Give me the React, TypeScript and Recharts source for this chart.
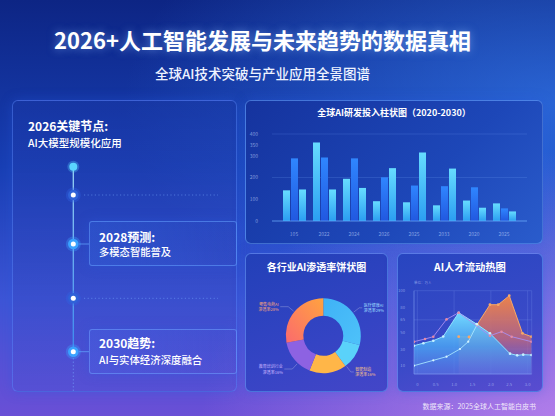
import { BarChart, Bar, XAxis, YAxis, CartesianGrid, PieChart, Pie, Cell, ComposedChart, Area, Line } from 'recharts'

const font = '"Noto Sans CJK SC", "Noto Sans", sans-serif'

// 全球AI研发投入柱状图
const barYears = ['105', '2022', '2024', '2026', '2025', '2033', '2020', '2025']
const investA = [141, 361, 194, 91, 86, 72, 94, 81]
const investB = [288, 292, 288, 201, 163, 160, 155, 58]
const investC = [145, 145, 152, 243, 315, 241, 61, 44]
const barTicks = [0, 100, 200, 300, 350, 400]

// 各行业AI渗透率
const sectors = ['医疗健康', '金融服务', '智能制造', '教育培训', '零售电商']
const sectorShare = [29, 11, 16, 16, 28]
const sectorNotes = [
  ['医疗健康AI', '渗透率29%'],
  null,
  ['智能制造', '渗透率16%'],
  ['教育培训行业', '渗透率16%'],
  ['零售电商AI', '渗透率28%'],
]

// AI人才流动热图
const flowX = [0, 1, 2, 3, 4, 5, 6]
const flowXLabels = ['0', '0.5', '1.0', '1.5', '2.0', '2.5', '3.0']
const flowYTicks = [10, 20, 30, 40, 50, 65, 80, 90, 100]
const cyanX = [-0.18, 0.33, 0.87, 1.41, 2.25, 3.22, 3.95, 5.04, 5.43, 5.76, 6.21]
const cyanY = [34, 37, 40, 45, 73.6, 60, 48.8, 24.4, 22.4, 23.2, 22.8]
const orangeX = [2.25, 2.81, 3.26, 3.95, 4.4, 5.0, 5.72, 6.21]
const orangeY = [44.8, 44.4, 59.6, 83.2, 83.2, 94, 48.8, 44.8]
const risingX = [-0.18, 0.87, 1.59, 2.32, 2.77, 3.26]
const risingY = [10, 16.4, 20.8, 30, 38.8, 59.6]
const purpleX = [-0.18, 0.42, 0.87, 1.59, 2.25, 3.95, 4.58, 5.13, 6.21]
const purpleY = [38.8, 42, 44.8, 65.6, 73.6, 46, 50.8, 44.8, 38.8]

const barData = barYears.map((label, i) => ({ label, a: investA[i], b: investB[i], c: investC[i] }))
const pieData = sectors.map((name, i) => ({ name, value: sectorShare[i] }))
const cyanData = cyanX.map((x, i) => ({ x, y: cyanY[i] }))
const orangeData = orangeX.map((x, i) => ({ x, y: orangeY[i] }))
const risingData = risingX.map((x, i) => ({ x, y: risingY[i] }))
const purpleData = purpleX.map((x, i) => ({ x, y: purpleY[i] }))

const sectorFills = ['url(#pieBlue)', '#5ad2fa', '#ffb648', '#8d62e2', 'url(#pieOrange)']
const noteColors = ['#9fdcff', '', '#f3c08a', '#c9b4ff', '#f6a47a']
const noteShift = [0, 0, 30, 7.5, 0]

const panelBorder = '1px solid rgba(110, 170, 255, 0.5)'
const tickSmall = { fontSize: 5, fill: 'rgba(200, 220, 255, 0.6)', fontFamily: font }

const RAD = Math.PI / 180

function renderNote(props: any) {
  const { cx, cy, midAngle, outerRadius, index } = props
  const note = sectorNotes[index]
  if (!note) return null
  const ang = (midAngle + noteShift[index]) * RAD
  const x0 = cx + (outerRadius + 1) * Math.cos(-ang)
  const y0 = cy + (outerRadius + 1) * Math.sin(-ang)
  const x1 = cx + (outerRadius + 8) * Math.cos(-ang)
  const y1 = cy + (outerRadius + 8) * Math.sin(-ang)
  const side = Math.cos(-ang) >= 0 ? 1 : -1
  const x2 = x1 + side * (side > 0 ? 3 : 8)
  return (
    <g>
      <polyline points={`${x0},${y0} ${x1},${y1} ${x2},${y1}`} fill="none" stroke="rgba(200,205,235,0.55)" strokeWidth={0.6} />
      <text x={x2 + side * 1.5} y={y1 - 1} textAnchor={side > 0 ? 'start' : 'end'} fontSize={4} fill={noteColors[index]} fontFamily={font}>
        <tspan x={x2 + side * 1.5} dy={0}>{note[0]}</tspan>
        <tspan x={x2 + side * 1.5} dy={5.5}>{note[1]}</tspan>
      </text>
    </g>
  )
}

function Box({ x, y, w, h, bg, children, border = panelBorder, radius = 6 }: any) {
  return (
    <div style={{ position: 'absolute', left: x, top: y, width: w, height: h, boxSizing: 'border-box', background: bg, border, borderRadius: radius, boxShadow: '0 0 12px rgba(40, 90, 220, 0.35)' }}>
      {children}
    </div>
  )
}

function Label({ x, y, size, weight = 500, children, color = '#fff', center }: any) {
  return (
    <div style={{ position: 'absolute', left: x, top: y - size * 0.7, fontSize: size, lineHeight: `${size * 1.4}px`, fontWeight: weight, color, whiteSpace: 'nowrap', width: center ? center : undefined, textAlign: center ? 'center' : 'left' }}>
      {children}
    </div>
  )
}

function Timeline() {
  const dot = (y: number, bright: boolean) => (
    <g key={y}>
      <circle cx={73.3} cy={y} r={7.5} fill={bright ? 'rgba(60,160,255,0.35)' : 'rgba(50,100,230,0.35)'} />
      <circle cx={73.3} cy={y} r={5.3} fill={bright ? '#3aa2ff' : '#2f62d8'} />
      <circle cx={73.3} cy={y} r={2.5} fill="#fff" />
    </g>
  )
  return (
    <svg width={555} height={416} style={{ position: 'absolute', left: 0, top: 0 }}>
      <defs>
        <linearGradient id="tl" gradientUnits="userSpaceOnUse" x1="0" y1="167" x2="0" y2="352">
          <stop offset="0" stopColor="#9ad6f5" />
          <stop offset="1" stopColor="#3a8cf0" />
        </linearGradient>
      </defs>
      <line x1={73.3} y1={167} x2={73.3} y2={352} stroke="url(#tl)" strokeWidth={1.3} />
      <line x1={73.3} y1={358} x2={73.3} y2={392} stroke="rgba(120,170,255,0.55)" strokeWidth={1} strokeDasharray="1.5 2" />
      <line x1={84} y1={195} x2={218} y2={195} stroke="rgba(120,170,255,0.5)" strokeWidth={1} strokeDasharray="1.2 2.4" />
      <line x1={84} y1={298.3} x2={218} y2={298.3} stroke="rgba(120,170,255,0.5)" strokeWidth={1} strokeDasharray="1.2 2.4" />
      <line x1={79} y1={244} x2={89} y2={244} stroke="rgba(100,170,255,0.7)" strokeWidth={1} />
      <line x1={79} y1={351.7} x2={89} y2={351.7} stroke="rgba(100,170,255,0.7)" strokeWidth={1} />
      <circle cx={73.3} cy={166.7} r={6} fill="rgba(90,210,255,0.3)" />
      <circle cx={73.3} cy={166.7} r={4} fill="#5ad4ff" />
      {dot(195, false)}
      {dot(244, true)}
      {dot(298.3, false)}
      {dot(351.7, true)}
    </svg>
  )
}

export default function App() {
  return (
    <div
      style={{
        position: 'absolute', left: 0, top: 0, width: 555, height: 416, overflow: 'hidden', fontFamily: font,
        background:
          'radial-gradient(ellipse at 100% 100%, rgba(200,140,240,0.75) 0%, rgba(200,140,240,0) 45%), radial-gradient(ellipse at 100% 25%, rgba(60,140,255,0.55) 0%, rgba(60,140,255,0) 55%), linear-gradient(180deg, #0d2584 0%, #183fb4 40%, #3d55d6 72%, #6a4fd6 100%)',
      }}
    >
      <div style={{ position: 'absolute', left: 0, top: 25, width: 525, textAlign: 'center', fontSize: 22, lineHeight: '28px', fontWeight: 700, color: '#fff', textShadow: '0 0 8px rgba(140,190,255,0.6)' }}>
        2026+人工智能发展与未来趋势的数据真相
      </div>
      <div style={{ position: 'absolute', left: 0, top: 63, width: 525, textAlign: 'center', fontSize: 13.5, lineHeight: '20px', fontWeight: 500, color: '#eef3ff' }}>
        全球AI技术突破与产业应用全景图谱
      </div>

      {/* 时间线 */}
      <Box x={12} y={100} w={225} h={292} bg="linear-gradient(180deg, rgba(25,55,165,0.45), rgba(70,80,210,0.35))" border="1px solid rgba(90,140,255,0.45)" />
      <Box x={89} y={221} w={148} h={45} radius={3} bg="linear-gradient(90deg, rgba(50,100,220,0.35), rgba(50,100,220,0.05))" border="1px solid rgba(100,160,255,0.55)" />
      <Box x={89} y={329} w={148} h={45} radius={3} bg="linear-gradient(90deg, rgba(70,100,230,0.35), rgba(70,100,230,0.05))" border="1px solid rgba(110,160,255,0.55)" />
      <Timeline />
      <Label x={28} y={126.7} size={12} weight={700}>2026关键节点:</Label>
      <Label x={28} y={143} size={10.5}>AI大模型规模化应用</Label>
      <Label x={99} y={237} size={12} weight={700}>2028预测:</Label>
      <Label x={99} y={252.5} size={10.3}>多模态智能普及</Label>
      <Label x={99} y={343.5} size={12} weight={700}>2030趋势:</Label>
      <Label x={99} y={360} size={10.4}>AI与实体经济深度融合</Label>

      {/* 柱状图 */}
      <Box x={245} y={100} w={298} h={144} bg="linear-gradient(135deg, #15339e 0%, #1d47b8 60%, #2a5ccc 100%)" />
      <Label x={245} y={113.5} size={9} weight={700} center={298}>全球AI研发投入柱状图（2020-2030）</Label>
      <div style={{ position: 'absolute', left: 245, top: 100 }}>
        <BarChart width={298} height={144} data={barData} margin={{ top: 34, right: 16, bottom: 0, left: 0 }} barSize={7} barGap={1}>
          <defs>
            <linearGradient id="barLight" x1="0" y1="0" x2="0" y2="1">
              <stop offset="0" stopColor="#66dcff" />
              <stop offset="1" stopColor="#2b9ef2" />
            </linearGradient>
            <linearGradient id="barDeep" x1="0" y1="0" x2="0" y2="1">
              <stop offset="0" stopColor="#2f86ff" />
              <stop offset="1" stopColor="#2158e0" />
            </linearGradient>
          </defs>
          <CartesianGrid vertical={false} stroke="rgba(120,170,255,0.18)" />
          <XAxis dataKey="label" height={23} padding={{ left: 7, right: 8 }} tick={tickSmall} tickLine={false} axisLine={{ stroke: 'rgba(110,180,255,0.6)' }} tickMargin={5} />
          <YAxis width={27} domain={[0, 400]} ticks={barTicks} tick={tickSmall} tickLine={false} axisLine={false} tickMargin={8} />
          <Bar dataKey="a" fill="url(#barLight)" isAnimationActive={false} />
          <Bar dataKey="b" fill="url(#barDeep)" isAnimationActive={false} />
          <Bar dataKey="c" fill="url(#barLight)" isAnimationActive={false} />
        </BarChart>
      </div>

      {/* 饼状图 */}
      <Box x={245} y={253} w={143} h={139} bg="linear-gradient(160deg, #2240b8 0%, #3444c4 60%, #4446c8 100%)" />
      <Label x={245} y={267} size={10} weight={700} center={143}>各行业AI渗透率饼状图</Label>
      <div style={{ position: 'absolute', left: 245, top: 253 }}>
        <PieChart width={143} height={139}>
          <defs>
            <linearGradient id="pieOrange" x1="1" y1="0" x2="0" y2="1">
              <stop offset="0" stopColor="#ffa33f" />
              <stop offset="1" stopColor="#fb6a6e" />
            </linearGradient>
            <linearGradient id="pieBlue" x1="0" y1="0" x2="1" y2="1">
              <stop offset="0" stopColor="#3fb2f6" />
              <stop offset="1" stopColor="#4ec2fa" />
            </linearGradient>
          </defs>
          <Pie data={pieData} dataKey="value" cx={73.3} cy={77.7} innerRadius={20} outerRadius={37.5} startAngle={90} endAngle={-270} stroke="none" label={renderNote} labelLine={false} isAnimationActive={false}>
            {pieData.map((d, i) => (
              <Cell key={d.name} fill={sectorFills[i]} />
            ))}
          </Pie>
        </PieChart>
      </div>

      {/* 人才流动 */}
      <Box x={397} y={253} w={146} h={139} bg="linear-gradient(160deg, #2745c0 0%, #3a4ac8 60%, #5a4cd0 100%)" />
      <Label x={397} y={267} size={10.3} weight={700} center={146}>AI人才流动热图</Label>
      <div style={{ position: 'absolute', left: 414, top: 279.5, fontSize: 3.5, color: 'rgba(200,215,255,0.6)', whiteSpace: 'nowrap' }}>单位：万人</div>
      <div style={{ position: 'absolute', left: 397, top: 253 }}>
        <ComposedChart width={146} height={139} margin={{ top: 37.7, right: 11.3, bottom: 0, left: 0 }}>
          <defs>
            <linearGradient id="cyanFill" x1="0" y1="0" x2="0" y2="1">
              <stop offset="0" stopColor="#72daff" stopOpacity={1} />
              <stop offset="0.55" stopColor="#4aa2f2" stopOpacity={0.85} />
              <stop offset="1" stopColor="#5a78e6" stopOpacity={0.6} />
            </linearGradient>
            <linearGradient id="orangeFill" x1="0" y1="0" x2="0" y2="1">
              <stop offset="0" stopColor="#f08448" stopOpacity={0.98} />
              <stop offset="0.55" stopColor="#c86a78" stopOpacity={0.8} />
              <stop offset="1" stopColor="#7a5ad0" stopOpacity={0.35} />
            </linearGradient>
          </defs>
          <CartesianGrid stroke="rgba(150,180,255,0.18)" />
          <XAxis type="number" dataKey="x" domain={[-0.18, 6.22]} ticks={flowX} tickFormatter={(v: number) => flowXLabels[v] ?? ''} height={18} tick={{ ...tickSmall, fontSize: 4.2 }} tickLine={false} axisLine={{ stroke: 'rgba(150,180,255,0.4)' }} tickMargin={3} allowDataOverflow />
          <YAxis type="number" domain={[0, 100]} ticks={flowYTicks} width={17} tick={{ ...tickSmall, fontSize: 4.2 }} tickLine={false} axisLine={{ stroke: 'rgba(150,180,255,0.35)' }} tickMargin={3} />
          <Area data={orangeData} dataKey="y" type="linear" stroke="#f6a868" strokeWidth={1} fill="url(#orangeFill)" fillOpacity={1} dot={{ r: 1.4, fill: '#f6a868', stroke: 'none' }} isAnimationActive={false} />
          <Area data={cyanData} dataKey="y" type="linear" stroke="#8fe2ff" strokeWidth={1} fill="url(#cyanFill)" fillOpacity={1} dot={{ r: 1.3, fill: '#c8f0ff', stroke: 'none' }} isAnimationActive={false} />
          <Line data={risingData} dataKey="y" type="linear" stroke="#a6e4ff" strokeWidth={0.9} dot={{ r: 1.1, fill: '#d6f4ff', stroke: 'none' }} isAnimationActive={false} />
          <Line data={purpleData} dataKey="y" type="linear" stroke="#a98ef2" strokeWidth={0.9} dot={{ r: 1.3, fill: '#e58aa6', stroke: 'none' }} isAnimationActive={false} />
        </ComposedChart>
      </div>

      <div style={{ position: 'absolute', left: 300, top: 401, width: 236, textAlign: 'right', fontSize: 7, lineHeight: '10px', color: 'rgba(255,255,255,0.85)' }}>
        数据来源：2025全球人工智能白皮书
      </div>
    </div>
  )
}
